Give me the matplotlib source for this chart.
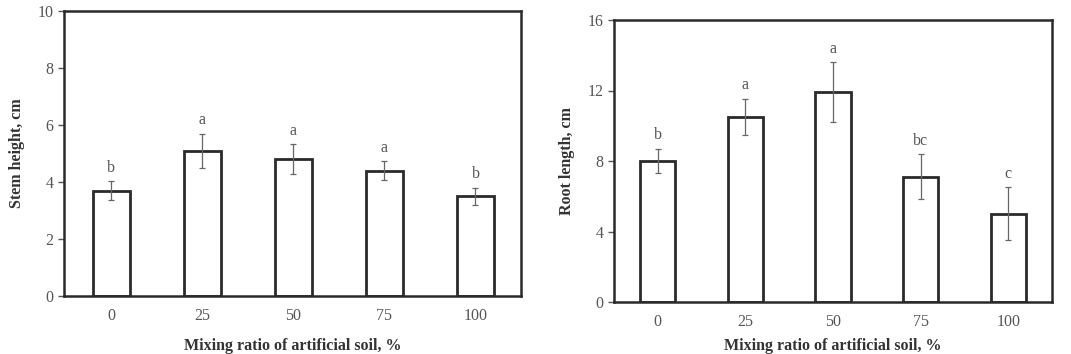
import matplotlib
matplotlib.use("Agg")
import matplotlib.pyplot as plt

categories = ["0", "25", "50", "75", "100"]
stem_height = [3.7, 5.1, 4.8, 4.4, 3.5]
stem_err = [0.32, 0.6, 0.52, 0.33, 0.3]
stem_letters = ["b", "a", "a", "a", "b"]
root_length = [8.0, 10.5, 11.9, 7.1, 5.0]
root_err = [0.69, 1.02, 1.7, 1.28, 1.5]
root_letters = ["b", "a", "a", "bc", "c"]

plt.rcParams['font.family'] = ['Liberation Serif', 'DejaVu Serif']
edge = '#2a2a2a'
textc = '#555555'

fig = plt.figure(figsize=(10.71, 3.54), dpi=100)
W, H = 1071, 354

def make(ax, vals, errs, letters, ylim, yticks, ylabel, xmin, xlab_y):
    x = list(range(len(categories)))
    ax.bar(x, vals, width=0.4, color='white', edgecolor=edge, linewidth=2, zorder=2)
    ax.errorbar(x, vals, yerr=errs, fmt='none', ecolor='#666666', elinewidth=0.9,
                capsize=2, capthick=0.9, zorder=3)
    for xi, v, e, l in zip(x, vals, errs, letters):
        ax.annotate(l, (xi, v + e), xytext=(0, 4), textcoords='offset points',
                    ha='center', va='bottom', fontsize=11.5, color=textc)
    ax.set_xlim(xmin, 4.5)
    ax.set_ylim(*ylim)
    ax.set_yticks(yticks)
    ax.set_xticks(x)
    ax.set_xticklabels(categories, fontsize=11.5, color=textc)
    ax.tick_params(axis='y', labelsize=11.5, labelcolor=textc, direction='out', length=4,
                   width=1, color='#555555')
    ax.tick_params(axis='x', length=0, pad=9)
    for s in ax.spines.values():
        s.set_linewidth(1.8)
        s.set_color(edge)
    ax.set_ylabel(ylabel, fontsize=11.5, fontweight='bold', color='#333333', labelpad=9)
    ax.set_xlabel("Mixing ratio of artificial soil, %", fontsize=11.5, fontweight='bold',
                  color='#333333')
    ax.xaxis.set_label_coords(0.5, xlab_y)

ax1 = fig.add_axes([64 / W, 1 - 296 / H, (521 - 64) / W, (296 - 11) / H])
make(ax1, stem_height, stem_err, stem_letters, (0, 10), [0, 2, 4, 6, 8, 10], "Stem height, cm", -0.52,
     -(338 - 296) / 285)
ax2 = fig.add_axes([614 / W, 1 - 302 / H, (1052 - 614) / W, (302 - 20) / H])
make(ax2, root_length, root_err, root_letters, (0, 16), [0, 4, 8, 12, 16], "Root length, cm", -0.5,
     -(338 - 302) / 282)

fig.savefig("out.png", dpi=100)
